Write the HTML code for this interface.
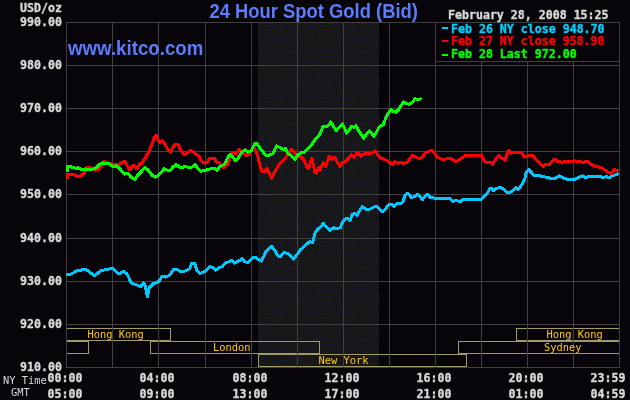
<!DOCTYPE html>
<html><head><meta charset="utf-8"><title>24 Hour Spot Gold</title>
<style>
html,body{margin:0;padding:0;background:#070509;}
body{width:630px;height:400px;overflow:hidden;}
svg{display:block;}
.m{font-family:"DejaVu Sans Mono","Liberation Mono",monospace;font-weight:bold;font-size:11.6px;stroke-width:0.35px;}
.s{font-family:"DejaVu Sans Mono","Liberation Mono",monospace;font-size:10.4px;}
.t{font-family:"Liberation Sans",Arial,sans-serif;font-weight:bold;}
</style></head><body>
<svg width="630" height="400" viewBox="0 0 630 400">
<defs>
<pattern id="dots" x="258" y="23" width="36" height="36" patternUnits="userSpaceOnUse">
<rect width="36" height="36" fill="#161716"/>
<path d="M0 0h1v1h-1zM0 7h1v1h-1zM0 13h1v1h-1zM0 18h1v1h-1zM0 24h1v1h-1zM1 10h1v1h-1zM1 34h1v1h-1zM2 4h1v1h-1zM2 16h1v1h-1zM2 21h1v1h-1zM2 27h1v1h-1zM3 0h1v1h-1zM3 30h1v1h-1zM4 7h1v1h-1zM4 12h1v1h-1zM4 18h1v1h-1zM4 24h1v1h-1zM5 3h1v1h-1zM5 9h1v1h-1zM5 33h1v1h-1zM6 15h1v1h-1zM6 21h1v1h-1zM6 28h1v1h-1zM7 0h1v1h-1zM7 6h1v1h-1zM7 13h1v1h-1zM7 19h1v1h-1zM7 31h1v1h-1zM8 3h1v1h-1zM8 24h1v1h-1zM9 9h1v1h-1zM9 15h1v1h-1zM9 22h1v1h-1zM9 27h1v1h-1zM9 33h1v1h-1zM10 24h1v1h-1zM11 0h1v1h-1zM11 6h1v1h-1zM11 12h1v1h-1zM11 19h1v1h-1zM11 30h1v1h-1zM12 3h1v1h-1zM12 9h1v1h-1zM12 21h1v1h-1zM12 28h1v1h-1zM13 16h1v1h-1zM13 33h1v1h-1zM14 6h1v1h-1zM14 12h1v1h-1zM14 19h1v1h-1zM14 30h1v1h-1zM15 0h1v1h-1zM15 24h1v1h-1zM16 3h1v1h-1zM16 10h1v1h-1zM16 27h1v1h-1zM16 34h1v1h-1zM17 1h1v1h-1zM17 15h1v1h-1zM17 18h1v1h-1zM17 21h1v1h-1zM18 6h1v1h-1zM18 12h1v1h-1zM18 30h1v1h-1zM19 9h1v1h-1zM19 15h1v1h-1zM19 24h1v1h-1zM20 3h1v1h-1zM20 21h1v1h-1zM20 27h1v1h-1zM20 33h1v1h-1zM22 0h1v1h-1zM22 6h1v1h-1zM22 13h1v1h-1zM22 19h1v1h-1zM22 24h1v1h-1zM22 30h1v1h-1zM23 3h1v1h-1zM23 15h1v1h-1zM23 27h1v1h-1zM24 10h1v1h-1zM24 22h1v1h-1zM24 34h1v1h-1zM25 1h1v1h-1zM25 6h1v1h-1zM25 13h1v1h-1zM25 18h1v1h-1zM25 24h1v1h-1zM26 15h1v1h-1zM26 30h1v1h-1zM27 3h1v1h-1zM27 9h1v1h-1zM27 21h1v1h-1zM27 27h1v1h-1zM27 33h1v1h-1zM28 0h1v1h-1zM28 7h1v1h-1zM28 13h1v1h-1zM29 18h1v1h-1zM29 24h1v1h-1zM29 30h1v1h-1zM30 9h1v1h-1zM30 15h1v1h-1zM30 21h1v1h-1zM30 33h1v1h-1zM31 3h1v1h-1zM31 27h1v1h-1zM32 6h1v1h-1zM32 12h1v1h-1zM32 18h1v1h-1zM32 24h1v1h-1zM32 30h1v1h-1zM33 0h1v1h-1zM34 4h1v1h-1zM34 10h1v1h-1zM34 15h1v1h-1zM34 21h1v1h-1zM34 33h1v1h-1zM35 27h1v1h-1zM35 30h1v1h-1z" fill="#181e48"/>
</pattern>
</defs>
<rect x="0" y="0" width="630" height="400" fill="#070509"/>
<rect x="258" y="23" width="121" height="344" fill="url(#dots)"/>
<rect x="66.5" y="328.5" width="104" height="12" fill="none" stroke="#a09b69" stroke-width="1"/>
<rect x="516.5" y="328.5" width="103" height="12" fill="none" stroke="#a09b69" stroke-width="1"/>
<rect x="66.5" y="341.5" width="22" height="12" fill="none" stroke="#a09b69" stroke-width="1"/>
<rect x="150.5" y="341.5" width="169" height="12" fill="none" stroke="#a09b69" stroke-width="1"/>
<rect x="458.5" y="341.5" width="161" height="12" fill="none" stroke="#a09b69" stroke-width="1"/>
<rect x="258.5" y="354.5" width="208" height="12" fill="none" stroke="#a09b69" stroke-width="1"/>
<line x1="66.5" y1="22" x2="66.5" y2="368" stroke="#404040" stroke-width="1"/>
<line x1="112.5" y1="22" x2="112.5" y2="368" stroke="#404040" stroke-width="1"/>
<line x1="158.5" y1="22" x2="158.5" y2="368" stroke="#404040" stroke-width="1"/>
<line x1="205.5" y1="22" x2="205.5" y2="368" stroke="#404040" stroke-width="1"/>
<line x1="251.5" y1="22" x2="251.5" y2="368" stroke="#404040" stroke-width="1"/>
<line x1="297.5" y1="22" x2="297.5" y2="368" stroke="#404040" stroke-width="1"/>
<line x1="343.5" y1="22" x2="343.5" y2="368" stroke="#404040" stroke-width="1"/>
<line x1="389.5" y1="22" x2="389.5" y2="368" stroke="#404040" stroke-width="1"/>
<line x1="435.5" y1="22" x2="435.5" y2="368" stroke="#404040" stroke-width="1"/>
<line x1="481.5" y1="22" x2="481.5" y2="368" stroke="#404040" stroke-width="1"/>
<line x1="527.5" y1="22" x2="527.5" y2="368" stroke="#404040" stroke-width="1"/>
<line x1="573.5" y1="22" x2="573.5" y2="368" stroke="#404040" stroke-width="1"/>
<line x1="619.5" y1="22" x2="619.5" y2="368" stroke="#404040" stroke-width="1"/>
<line x1="66" y1="22.5" x2="620" y2="22.5" stroke="#404040" stroke-width="1"/>
<line x1="66" y1="65.5" x2="620" y2="65.5" stroke="#404040" stroke-width="1"/>
<line x1="66" y1="108.5" x2="620" y2="108.5" stroke="#404040" stroke-width="1"/>
<line x1="66" y1="151.5" x2="620" y2="151.5" stroke="#404040" stroke-width="1"/>
<line x1="66" y1="194.5" x2="620" y2="194.5" stroke="#404040" stroke-width="1"/>
<line x1="66" y1="238.5" x2="620" y2="238.5" stroke="#404040" stroke-width="1"/>
<line x1="66" y1="281.5" x2="620" y2="281.5" stroke="#404040" stroke-width="1"/>
<line x1="66" y1="324.5" x2="620" y2="324.5" stroke="#404040" stroke-width="1"/>
<line x1="66" y1="367.5" x2="620" y2="367.5" stroke="#404040" stroke-width="1"/>
<rect x="435.5" y="22.5" width="184" height="39" fill="#070509" stroke="#404040" stroke-width="1"/>
<text class="s" x="115.7" y="338" fill="#ffcc00" text-anchor="middle">Hong Kong</text>
<text class="s" x="574.7" y="338" fill="#ffcc00" text-anchor="middle">Hong Kong</text>
<text class="s" x="231.8" y="351" fill="#ffcc00" text-anchor="middle">London</text>
<text class="s" x="562.7" y="351" fill="#ffcc00" text-anchor="middle">Sydney</text>
<text class="s" x="343.6" y="364" fill="#ffcc00" text-anchor="middle">New York</text>
<polyline points="66,274.1 69.1,274.9 73.1,273 77.1,270.6 81,270.2 84.2,269 87.4,270.5 91.4,273.3 94.5,275.7 97.7,273.3 100.9,270.5 104.9,269.8 108.8,269 112.5,268.3 115.2,271 117.6,273.3 120.7,273 123.9,271.3 127.1,274.1 129.5,278.9 131,282.9 134.2,284.1 137.4,285.2 140.6,286.8 143.7,282.9 145.6,287 147.3,297 149,288.5 150.1,286.8 153.3,283.7 157.2,282.5 159.6,280.6 162,276.1 165.1,277.1 169.1,275.5 171.5,272.6 173.9,269.1 177,269.4 180.2,271.3 183.4,271.8 186.6,270.2 189.7,268.7 191.7,263.1 194.5,263.1 196.9,270.2 199.6,273.4 203.2,272.3 206.4,270.2 209.6,266.6 212.8,267.5 215.5,270.2 219.1,267.5 222.3,266.6 225.5,263.1 228.6,261.8 231.8,260.2 235,263.1 239,260.7 242.1,258.7 244.5,261.5 247.7,262.6 250.9,259.9 253.2,257.2 255.6,257.5 257.2,258.7 261.1,261.1 263.5,257.1 265.9,251.6 269.1,248.4 271.5,246.3 274.6,250 278,256 280.5,256.5 283.4,252.7 287.3,253.2 290.5,255.6 293.7,259 296.9,254.8 300,250 303.2,247.6 306.4,244.4 309.6,241.6 312.7,242.5 315.1,232.5 317.5,229.4 320.7,226.7 323.4,223.5 326.2,226.7 330.2,230.2 333.4,227.8 337.3,228.6 340.5,227.5 342.5,222 345,219 347.7,218.7 350,220.5 352.4,214.7 354.8,213.1 357.1,215.5 359.5,210.7 362.4,206.7 365.9,209.1 369.8,209.1 373,207.5 376.2,206 379.4,209.1 382.5,211.5 384.9,209.6 388.9,204.4 392.1,204.8 394.4,206.4 397.6,203.3 400.8,203.3 403.2,201.7 404.8,195.6 407.9,193.3 411.1,197.2 414.3,196.9 417.5,194.4 419.8,196.4 422.5,199.6 425.4,196 427.8,194.4 430.2,197.2 434.1,198 438.9,198.8 443.7,198.8 446,198.1 449.2,198.2 453.1,201.3 456.3,200.5 460.3,201.6 463,199.4 469.8,199.4 476.2,199.4 480.9,199.4 484.1,196.2 487.3,193.3 489.7,188.6 492,188.9 493.6,190.5 496.8,188.3 500.8,187.3 503.9,189.4 507.1,192.5 510.3,192.5 513.5,189.8 515.8,187.8 518.2,189.4 521.4,185.4 524.6,179.8 526.2,172.7 528.9,169.8 531.7,172.7 534.1,175.6 537.9,175.5 542.7,176.4 547.5,177.5 552.2,178.7 555.4,178.3 559.4,176 562.5,177.5 566.5,179.1 571.3,179.6 575.2,179.1 578.4,177.5 582.4,176 585.6,177.5 589.5,176.4 595.1,176.4 599.8,176.4 603,177.5 606.2,176.7 609.4,177.5 612.5,175.5 615.7,174.8 618.6,173.6" fill="none" stroke="#00c8ff" stroke-width="3" stroke-linejoin="round" stroke-linecap="butt" shape-rendering="crispEdges"/>
<polyline points="67.5,178.5 67.5,174.5 69,174.5 72.2,174 74.7,174.8 77.2,176.7 81,176 84.2,172.9 87.4,167.5 91.2,167.8 95.7,170.3 98.8,169.7 102,165.2 104.5,161.4 107.7,163.3 111.5,163.7 115.3,164.6 119,164.3 122.3,162.7 124.9,161.4 126.8,164.6 129.3,169.7 133.7,165.2 137,169 140,163.3 141.2,163.9 145.1,158.3 149.1,151.2 152.3,143.3 154.7,136.9 156.3,135.3 158.3,140.1 160.2,142.5 162.6,140.9 165,144 168.2,150.4 170.5,152 172.9,147.2 176.1,144 178.5,144.8 180.9,150.4 184,154.4 187.2,153.6 190.4,150.4 193.6,152 195,153.7 198.3,155.4 201.6,161.4 204.9,163.1 207.1,162.5 210.4,158.1 214.3,158.1 216.5,162 218.7,162 220.9,165.3 223.1,168 225.8,165.8 228,164.2 229.7,158.7 231.3,154.3 233.5,152.6 236.3,153.7 239.1,149.3 241.3,151.5 243.5,153.7 246.2,155.4 249,154.8 250.6,152.6 252.3,148.2 254,147.5 256.2,151.3 257.8,156.1 259.4,163.2 261.8,171.2 264.2,172 267.3,168.5 269.7,174.3 271.8,178.3 273.7,174.3 276.1,169.6 279.2,164 282.4,161.7 285.6,157.7 288.8,152.6 291.5,149.4 294.3,152.1 296.7,157.7 299.1,155.3 300,156 303.9,159.8 307.2,168 308.8,168.6 311,159.8 312.1,158.7 313.2,164.2 314.9,172.5 316.5,173 318.7,167.5 320.4,169.7 323.1,162.6 325.9,166.4 329.2,156 331.9,159.8 333,157 335.2,157.6 338.5,164.2 340.2,166.4 342.4,162.6 345.1,162 348.4,158.7 351.2,154.9 353.9,157.6 357.2,152.1 358.9,153.8 361.1,156.5 363.8,154.3 365.7,153 368.9,153.5 372.1,153 375.2,151 377.6,154.6 380,157.8 383.2,158.9 386.3,160.2 389.5,162.5 392.2,164.9 395.1,161.7 397.5,163.3 400.6,162.5 403.8,163.3 407,162.5 410.2,158.6 412.5,155.4 415.7,157 418.9,158.3 422.1,157.8 425.2,153 427.6,151.9 429.2,151.2 432.3,150.6 434.7,153.3 437.1,156.9 441.1,159.1 445.8,159.1 449.8,158 453,159.6 455.8,161.7 459.3,159.6 462.5,157.5 465.7,155.3 470.4,155.3 476.8,155.3 481.6,155.6 483.9,160.4 486.3,162.3 490.3,162.3 492.7,164.4 495.8,158.8 499,155.6 501.9,158 505,160.4 507.3,153.5 509,150.4 511.8,153.1 514,152 521.2,152 524.5,157 527.8,155.9 533.3,155.9 536.6,160.3 539.9,163.1 542.7,166.4 545.4,164.7 549.8,164.2 552.2,160.9 555.1,159 557.8,161.7 561.7,162.1 566.5,161.7 571.3,161.7 575.2,160.9 579.2,161.7 583.2,162.1 587.9,161.7 591.1,164.4 594.3,166 598.3,166.9 602.2,168 605.4,170.4 608.6,172.8 611.7,173.3 614.1,169.6 616.5,170.4 618.6,170.7" fill="none" stroke="#ff0000" stroke-width="3" stroke-linejoin="round" stroke-linecap="butt" shape-rendering="crispEdges"/>
<polyline points="67.5,172 67.5,166.5 68.3,166.5 72.2,167.1 76,168.4 78.5,167.8 82.3,170 85.5,169 89.3,169.7 93.7,168.8 97,167.1 100,164 102.6,163 105.8,163.7 108.3,163 110.9,165.2 113.4,166.5 116,165.9 119,167.8 121.7,171 124.9,174.1 128,173.5 131.2,177.3 135,179.2 137.6,175.4 141.2,171.8 144.7,167.5 148.3,170.2 152.3,175.5 155.5,177.1 158.6,175 161.8,171.8 164.2,168.7 167.4,170.2 170.5,170.2 172.9,167.1 176.1,164.4 179.3,167.1 183.2,167.1 185.6,166.3 188.8,167.9 192,167.1 195,164.7 200.5,171.3 206,170.2 211.5,168.6 214.3,168 217,170.2 220.3,166.4 224.7,164.2 228,157 230.2,154.8 233,157 235.2,160.9 238,158.7 241.3,152.6 243.5,151 245.7,149.9 247.9,152.1 251.2,151 253.4,146 255,143.8 256.7,143.4 259.4,147.4 262.6,151.3 265.7,155.3 268.9,155.3 272.9,153.7 276.5,145.8 280,147.4 283.2,149.7 285.6,148.2 288,153.7 291.1,155.3 295.1,159.6 297.5,155.3 300.7,152.9 304.6,152.1 308.6,148.2 311.8,145 315,139.4 318.1,136.3 320.5,133.1 322.9,126.7 326.1,126.7 328.4,125.1 330.8,122 332.4,124.1 336,131 338.7,128.1 342.4,123.7 344.6,128.1 346.7,133.2 349,130.5 351.4,126.5 353.8,127.3 355.7,125.7 358.6,130.5 361.7,135.2 363.8,138.4 366.5,133.7 369.7,131 371.6,132.9 373.7,136.3 376,133.2 378.4,128.1 380.8,125.7 383.2,124.9 385.6,118.6 387.9,113.5 391.1,109.8 393.5,111.4 395.9,112.2 398.3,109.8 401.4,105.1 403.8,101.9 406.2,103.5 409.4,104.3 412.2,102.7 414.9,98.7 417.3,99.5 419.7,99.2 421.7,98.3" fill="none" stroke="#00ff00" stroke-width="3" stroke-linejoin="round" stroke-linecap="butt" shape-rendering="crispEdges"/>
<text class="m" x="62" y="26" fill="#d8d8d8" stroke="#d8d8d8" text-anchor="end">990.00</text>
<text class="m" x="62" y="69" fill="#d8d8d8" stroke="#d8d8d8" text-anchor="end">980.00</text>
<text class="m" x="62" y="112" fill="#d8d8d8" stroke="#d8d8d8" text-anchor="end">970.00</text>
<text class="m" x="62" y="155" fill="#d8d8d8" stroke="#d8d8d8" text-anchor="end">960.00</text>
<text class="m" x="62" y="198" fill="#d8d8d8" stroke="#d8d8d8" text-anchor="end">950.00</text>
<text class="m" x="62" y="242" fill="#d8d8d8" stroke="#d8d8d8" text-anchor="end">940.00</text>
<text class="m" x="62" y="285" fill="#d8d8d8" stroke="#d8d8d8" text-anchor="end">930.00</text>
<text class="m" x="62" y="328" fill="#d8d8d8" stroke="#d8d8d8" text-anchor="end">920.00</text>
<text class="m" x="62" y="371" fill="#d8d8d8" stroke="#d8d8d8" text-anchor="end">910.00</text>
<text class="m" x="62" y="12" fill="#d8d8d8" stroke="#d8d8d8" text-anchor="end">USD/oz</text>
<text class="m" x="65" y="382" fill="#d8d8d8" stroke="#d8d8d8" text-anchor="middle">00:00</text>
<text class="m" x="65" y="398" fill="#d8d8d8" stroke="#d8d8d8" text-anchor="middle">05:00</text>
<text class="m" x="157" y="382" fill="#d8d8d8" stroke="#d8d8d8" text-anchor="middle">04:00</text>
<text class="m" x="157" y="398" fill="#d8d8d8" stroke="#d8d8d8" text-anchor="middle">09:00</text>
<text class="m" x="250" y="382" fill="#d8d8d8" stroke="#d8d8d8" text-anchor="middle">08:00</text>
<text class="m" x="250" y="398" fill="#d8d8d8" stroke="#d8d8d8" text-anchor="middle">13:00</text>
<text class="m" x="342" y="382" fill="#d8d8d8" stroke="#d8d8d8" text-anchor="middle">12:00</text>
<text class="m" x="342" y="398" fill="#d8d8d8" stroke="#d8d8d8" text-anchor="middle">17:00</text>
<text class="m" x="434" y="382" fill="#d8d8d8" stroke="#d8d8d8" text-anchor="middle">16:00</text>
<text class="m" x="434" y="398" fill="#d8d8d8" stroke="#d8d8d8" text-anchor="middle">21:00</text>
<text class="m" x="526" y="382" fill="#d8d8d8" stroke="#d8d8d8" text-anchor="middle">20:00</text>
<text class="m" x="526" y="398" fill="#d8d8d8" stroke="#d8d8d8" text-anchor="middle">01:00</text>
<text class="m" x="608" y="382" fill="#d8d8d8" stroke="#d8d8d8" text-anchor="middle">23:59</text>
<text class="m" x="608" y="398" fill="#d8d8d8" stroke="#d8d8d8" text-anchor="middle">04:59</text>
<text class="s" x="3" y="384" fill="#d8d8d8">NY Time</text>
<text class="s" x="11" y="396" fill="#d8d8d8">GMT</text>
<text class="t" x="209.5" y="18" font-size="18.4" fill="#5b7dfc" transform="translate(0 18) scale(1 1.075) translate(0 -18)">24 Hour Spot Gold (Bid)</text>
<text class="t" x="68" y="55" font-size="18.7" fill="#5b7dfc" transform="translate(0 55) scale(1 1.075) translate(0 -55)">www.kitco.com</text>
<text class="m" x="448" y="19" fill="#d8d8d8" stroke="#d8d8d8">February 28, 2008 15:25</text>
<rect x="442" y="27" width="6" height="2" fill="#00d0ff"/>
<text class="m" x="451" y="33" fill="#00d0ff" stroke="#00d0ff">Feb 26 NY close 948.70</text>
<rect x="442" y="40" width="6" height="2" fill="#ff0000"/>
<text class="m" x="451" y="45" fill="#ff0000" stroke="#ff0000">Feb 27 NY close 958.90</text>
<rect x="442" y="54" width="6" height="2" fill="#00ff00"/>
<text class="m" x="451" y="58" fill="#00ff00" stroke="#00ff00">Feb 28 Last 972.00</text>
</svg>
</body></html>
